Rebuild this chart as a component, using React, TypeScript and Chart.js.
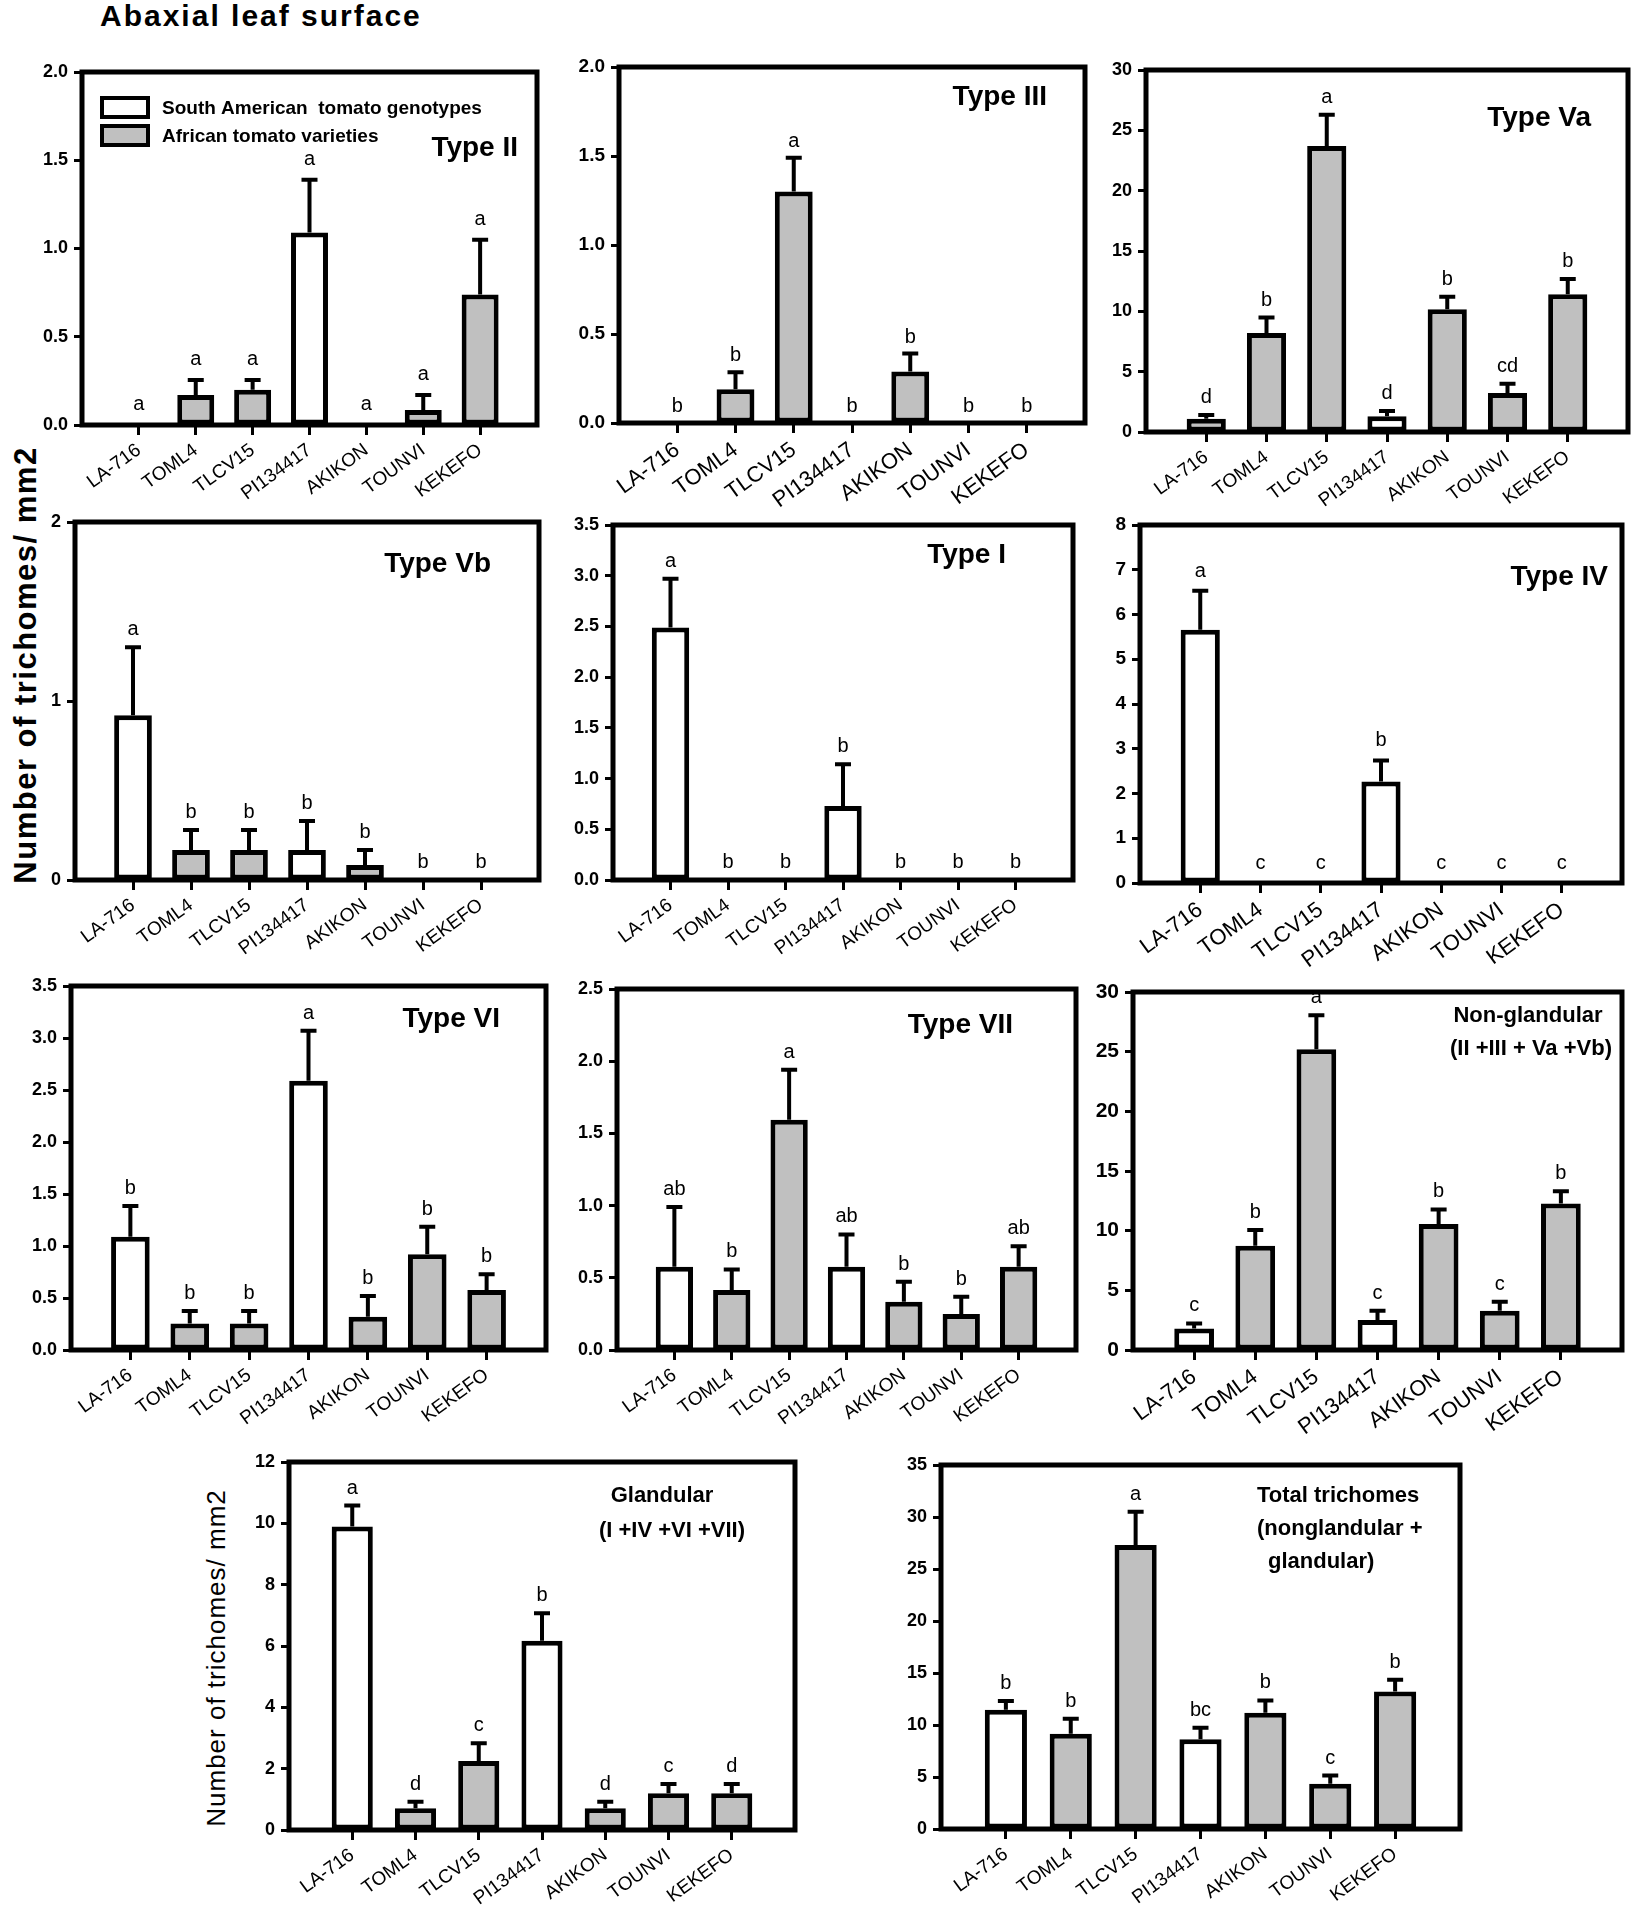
import React, { useEffect, useRef } from "react";
import { Chart, registerables } from "chart.js";

Chart.register(...registerables);

const FONT = "'Liberation Sans', Arial, Helvetica, sans-serif";

// ---------- categories ----------
const genotypes = ["LA-716", "TOML4", "TLCV15", "PI134417", "AKIKON", "TOUNVI", "KEKEFO"];
const originGroup = ["South American", "African", "African", "South American", "African", "African", "African"];
const originGroupTypeVa = ["African", "African", "African", "South American", "African", "African", "African"];

// ---------- series (mean, standard error, significance letters) ----------
const typeIIMean = [0, 0.17, 0.2, 1.09, 0, 0.085, 0.74];
const typeIISE = [0, 0.085, 0.055, 0.3, 0, 0.085, 0.31];
const typeIILetters = ["a", "a", "a", "a", "a", "a", "a"];

const typeIIIMean = [0, 0.19, 1.3, 0, 0.29, 0, 0];
const typeIIISE = [0, 0.095, 0.19, 0, 0.1, 0, 0];
const typeIIILetters = ["b", "b", "a", "b", "b", "b", "b"];

const typeVaMean = [1.1, 8.2, 23.7, 1.3, 10.17, 3.24, 11.42];
const typeVaSE = [0.3, 1.28, 2.6, 0.45, 1.03, 0.76, 1.25];
const typeVaLetters = ["d", "b", "a", "d", "b", "cd", "b"];

const typeVbMean = [0.92, 0.167, 0.167, 0.167, 0.084, 0, 0];
const typeVbSE = [0.38, 0.113, 0.113, 0.163, 0.083, 0, 0];
const typeVbLetters = ["a", "b", "b", "b", "b", "b", "b"];

const typeIMean = [2.49, 0, 0, 0.73, 0, 0, 0];
const typeISE = [0.48, 0, 0, 0.41, 0, 0, 0];
const typeILetters = ["a", "b", "b", "b", "b", "b", "b"];

const typeIVMean = [5.66, 0, 0, 2.27, 0, 0, 0];
const typeIVSE = [0.87, 0, 0, 0.47, 0, 0, 0];
const typeIVLetters = ["a", "c", "c", "b", "c", "c", "c"];

const typeVIMean = [1.09, 0.256, 0.256, 2.59, 0.32, 0.92, 0.577];
const typeVISE = [0.295, 0.12, 0.12, 0.48, 0.2, 0.266, 0.151];
const typeVILetters = ["b", "b", "b", "a", "b", "b", "b"];

const typeVIIMean = [0.576, 0.415, 1.594, 0.576, 0.334, 0.249, 0.576];
const typeVIISE = [0.414, 0.143, 0.346, 0.224, 0.138, 0.12, 0.143];
const typeVIILetters = ["ab", "b", "a", "ab", "b", "b", "ab"];

const nonGlandularMean = [1.81, 8.74, 25.2, 2.51, 10.55, 3.29, 12.28];
const nonGlandularSE = [0.42, 1.31, 2.85, 0.78, 1.23, 0.76, 1.03];
const nonGlandularLetters = ["c", "b", "a", "c", "b", "c", "b"];

const glandularMean = [9.9, 0.71, 2.25, 6.17, 0.71, 1.2, 1.2];
const glandularSE = [0.68, 0.21, 0.58, 0.9, 0.21, 0.3, 0.3];
const glandularLetters = ["a", "d", "c", "b", "d", "c", "d"];

const totalMean = [11.46, 9.15, 27.3, 8.64, 11.18, 4.34, 13.23];
const totalSE = [0.84, 1.45, 3.2, 1.09, 1.18, 0.8, 1.12];
const totalLetters = ["b", "b", "a", "bc", "b", "c", "b"];

// ---------- legend ----------
const legendLabels = ["South American  tomato genotypes", "African tomato varieties"];
const legendGroups = ["South American", "African"];

// ---------- styles ----------
const groupFill: Record<string, string> = { "South American": "#ffffff", African: "#c0c0c0" };

type Note = { text: string; x: number; y: number; align: CanvasTextAlign; font: string };
type Panel = {
  id: string;
  mean: number[];
  se: number[];
  letters: string[];
  groups: string[];
  yMax: number;
  yStep: number;
  decimals: number;
  frame: [number, number, number, number];
  xFont: number;
  yFont: number;
  letterGap: number;
  notes: Note[];
  legend?: boolean;
};

const TITLE = `bold 28px ${FONT}`;
const NOTE = `bold 22px ${FONT}`;

const panels: Panel[] = [
  {
    id: "II", mean: typeIIMean, se: typeIISE, letters: typeIILetters, groups: originGroup,
    yMax: 2, yStep: 0.5, decimals: 1, frame: [82, 72, 537, 425], xFont: 19, yFont: 18, letterGap: 15,
    notes: [{ text: "Type II", x: 518, y: 156, align: "right", font: TITLE }], legend: true,
  },
  {
    id: "III", mean: typeIIIMean, se: typeIIISE, letters: typeIIILetters, groups: originGroup,
    yMax: 2, yStep: 0.5, decimals: 1, frame: [619, 67, 1085, 423], xFont: 22, yFont: 19, letterGap: 11,
    notes: [{ text: "Type III", x: 1047, y: 105, align: "right", font: TITLE }],
  },
  {
    id: "Va", mean: typeVaMean, se: typeVaSE, letters: typeVaLetters, groups: originGroupTypeVa,
    yMax: 30, yStep: 5, decimals: 0, frame: [1146, 70, 1628, 432], xFont: 19, yFont: 18, letterGap: 12,
    notes: [{ text: "Type Va", x: 1591, y: 126, align: "right", font: TITLE }],
  },
  {
    id: "Vb", mean: typeVbMean, se: typeVbSE, letters: typeVbLetters, groups: originGroup,
    yMax: 2, yStep: 1, decimals: 0, frame: [75, 522, 539, 880], xFont: 19, yFont: 18, letterGap: 12,
    notes: [{ text: "Type Vb", x: 491, y: 572, align: "right", font: TITLE }],
  },
  {
    id: "I", mean: typeIMean, se: typeISE, letters: typeILetters, groups: originGroup,
    yMax: 3.5, yStep: 0.5, decimals: 1, frame: [613, 525, 1073, 880], xFont: 19, yFont: 18, letterGap: 12,
    notes: [{ text: "Type I", x: 1006, y: 563, align: "right", font: TITLE }],
  },
  {
    id: "IV", mean: typeIVMean, se: typeIVSE, letters: typeIVLetters, groups: originGroup,
    yMax: 8, yStep: 1, decimals: 0, frame: [1140, 525, 1622, 883], xFont: 22, yFont: 19, letterGap: 14,
    notes: [{ text: "Type IV", x: 1608, y: 585, align: "right", font: TITLE }],
  },
  {
    id: "VI", mean: typeVIMean, se: typeVISE, letters: typeVILetters, groups: originGroup,
    yMax: 3.5, yStep: 0.5, decimals: 1, frame: [71, 986, 546, 1350], xFont: 19, yFont: 18, letterGap: 12,
    notes: [{ text: "Type VI", x: 500, y: 1027, align: "right", font: TITLE }],
  },
  {
    id: "VII", mean: typeVIIMean, se: typeVIISE, letters: typeVIILetters, groups: originGroup,
    yMax: 2.5, yStep: 0.5, decimals: 1, frame: [617, 989, 1076, 1350], xFont: 19, yFont: 18, letterGap: 12,
    notes: [{ text: "Type VII", x: 1013, y: 1033, align: "right", font: TITLE }],
  },
  {
    id: "NG", mean: nonGlandularMean, se: nonGlandularSE, letters: nonGlandularLetters, groups: originGroup,
    yMax: 30, yStep: 5, decimals: 0, frame: [1133, 992, 1622, 1350], xFont: 22, yFont: 21, letterGap: 12,
    notes: [
      { text: "Non-glandular", x: 1528, y: 1022, align: "center", font: NOTE },
      { text: "(II +III + Va +Vb)", x: 1531, y: 1055, align: "center", font: NOTE },
    ],
  },
  {
    id: "G", mean: glandularMean, se: glandularSE, letters: glandularLetters, groups: originGroup,
    yMax: 12, yStep: 2, decimals: 0, frame: [289, 1462, 795, 1830], xFont: 19, yFont: 18, letterGap: 12,
    notes: [
      { text: "Glandular", x: 662, y: 1502, align: "center", font: NOTE },
      { text: "(I +IV +VI +VII)", x: 672, y: 1537, align: "center", font: NOTE },
    ],
  },
  {
    id: "T", mean: totalMean, se: totalSE, letters: totalLetters, groups: originGroup,
    yMax: 35, yStep: 5, decimals: 0, frame: [941, 1465, 1460, 1829], xFont: 19, yFont: 18, letterGap: 12,
    notes: [
      { text: "Total trichomes", x: 1257, y: 1502, align: "left", font: NOTE },
      { text: "(nonglandular +", x: 1257, y: 1535, align: "left", font: NOTE },
      { text: "glandular)", x: 1268, y: 1568, align: "left", font: NOTE },
    ],
  },
];

const PAD_L = 72;
const PAD_T = 24;
const PAD_R = 32;
const PAD_B = 100;

function PanelChart({ panel }: { panel: Panel }) {
  const ref = useRef<HTMLCanvasElement | null>(null);
  const [l, t, r, b] = panel.frame;
  const cw = r - l + PAD_L + PAD_R;
  const ch = b - t + PAD_T + PAD_B;
  const left = l - PAD_L;
  const top = t - PAD_T;

  useEffect(() => {
    if (!ref.current) return;
    const labels = ["", ...genotypes, ""];
    const values: (number | null)[] = [null, ...panel.mean, null];
    const fills = ["#fff", ...panel.groups.map((g) => groupFill[g]), "#fff"];

    const deco = {
      id: "deco" + panel.id,
      afterDraw(chart: any) {
        const ctx = chart.ctx as CanvasRenderingContext2D;
        const area = chart.chartArea;
        const ys = chart.scales.y;
        const meta = chart.getDatasetMeta(0);
        ctx.save();
        // error bars + letters
        for (let i = 0; i < panel.mean.length; i++) {
          const el = meta.data[i + 1];
          if (!el) continue;
          const x = el.x;
          const yTop = ys.getPixelForValue(panel.mean[i]);
          const yErr = ys.getPixelForValue(panel.mean[i] + panel.se[i]);
          if (panel.se[i] > 0) {
            ctx.strokeStyle = "#000";
            ctx.lineWidth = 4;
            ctx.lineCap = "butt";
            ctx.beginPath();
            ctx.moveTo(x, yTop);
            ctx.lineTo(x, yErr);
            ctx.moveTo(x - 8, yErr);
            ctx.lineTo(x + 8, yErr);
            ctx.stroke();
          }
          ctx.fillStyle = "#000";
          ctx.font = `20px ${FONT}`;
          ctx.textAlign = "center";
          ctx.textBaseline = "alphabetic";
          ctx.fillText(panel.letters[i], x, Math.min(yErr, yTop) - panel.letterGap);
        }
        // frame
        ctx.strokeStyle = "#000";
        ctx.lineWidth = 5;
        ctx.strokeRect(area.left, area.top, area.right - area.left, area.bottom - area.top);
        // notes (page coords -> canvas coords)
        ctx.fillStyle = "#000";
        ctx.textBaseline = "alphabetic";
        for (const n of panel.notes) {
          ctx.font = n.font;
          ctx.textAlign = n.align;
          ctx.fillText(n.text, n.x - left, n.y - top);
        }
        // legend
        if (panel.legend) {
          const boxX = 102 - left;
          const boxYs = [98 - top, 126 - top];
          const textYs = [114 - top, 142 - top];
          for (let k = 0; k < legendLabels.length; k++) {
            ctx.fillStyle = groupFill[legendGroups[k]];
            ctx.fillRect(boxX, boxYs[k], 46, 19);
            ctx.strokeStyle = "#000";
            ctx.lineWidth = 4;
            ctx.strokeRect(boxX, boxYs[k], 46, 19);
            ctx.fillStyle = "#000";
            ctx.font = `bold 19px ${FONT}`;
            ctx.textAlign = "left";
            ctx.fillText(legendLabels[k], 162 - left, textYs[k]);
          }
        }
        ctx.restore();
      },
    };

    const chart = new Chart(ref.current, {
      type: "bar",
      data: {
        labels,
        datasets: [
          {
            data: values,
            backgroundColor: fills,
            borderColor: "#000",
            borderWidth: 5,
            borderSkipped: false,
            barPercentage: 0.65,
            categoryPercentage: 1,
          },
        ],
      },
      options: {
        animation: false,
        responsive: false,
        devicePixelRatio: 1,
        events: [],
        layout: { padding: { top: PAD_T, right: PAD_R, left: 0, bottom: 0 } },
        plugins: {
          legend: { display: false },
          tooltip: { enabled: false },
          title: { display: false },
        },
        scales: {
          x: {
            type: "category",
            offset: false,
            grid: {
              offset: false,
              display: true,
              drawOnChartArea: false,
              drawTicks: true,
              tickLength: 10,
              tickWidth: 3,
              tickColor: (c: any) => (c.index === 0 || c.index === labels.length - 1 ? "rgba(0,0,0,0)" : "#000"),
            },
            border: { display: false },
            ticks: {
              autoSkip: false,
              minRotation: 36,
              maxRotation: 36,
              padding: 4,
              color: "#000",
              font: { family: FONT, size: panel.xFont },
            },
            afterFit: (s: any) => {
              s.height = PAD_B;
            },
          },
          y: {
            min: 0,
            max: panel.yMax,
            grid: {
              display: true,
              drawOnChartArea: false,
              drawTicks: true,
              tickLength: 8,
              tickWidth: 3,
              tickColor: "#000",
            },
            border: { display: false },
            ticks: {
              stepSize: panel.yStep,
              padding: 6,
              color: "#000",
              font: { family: FONT, size: panel.yFont, weight: "bold" },
              callback: (v: any) => Number(v).toFixed(panel.decimals),
            },
            afterFit: (s: any) => {
              s.width = PAD_L;
            },
          },
        },
      },
      plugins: [deco],
    } as any);
    return () => chart.destroy();
  }, []);

  return (
    <canvas
      ref={ref}
      width={cw}
      height={ch}
      style={{ position: "absolute", left, top, width: cw, height: ch }}
    />
  );
}

export default function App() {
  return (
    <div
      style={{
        position: "absolute",
        left: 0,
        top: 0,
        width: 1636,
        height: 1905,
        overflow: "hidden",
        background: "#fff",
      }}
    >
      <div
        style={{
          position: "absolute",
          left: 100,
          top: 1,
          fontFamily: FONT,
          fontWeight: "bold",
          fontSize: 30,
          letterSpacing: "2px",
          lineHeight: 1,
          whiteSpace: "nowrap",
          color: "#000",
        }}
      >
        Abaxial leaf surface
      </div>
      <div
        style={{
          position: "absolute",
          left: 25,
          top: 665,
          transform: "translate(-50%, -50%) rotate(-90deg)",
          fontFamily: FONT,
          fontWeight: "bold",
          fontSize: 31,
          letterSpacing: "1.5px",
          lineHeight: 1,
          whiteSpace: "nowrap",
          color: "#000",
        }}
      >
        Number of trichomes/ mm2
      </div>
      <div
        style={{
          position: "absolute",
          left: 216,
          top: 1658,
          transform: "translate(-50%, -50%) rotate(-90deg)",
          fontFamily: FONT,
          fontSize: 26,
          letterSpacing: "1px",
          lineHeight: 1,
          whiteSpace: "nowrap",
          color: "#000",
        }}
      >
        Number of trichomes/ mm2
      </div>
      {panels.map((p) => (
        <PanelChart key={p.id} panel={p} />
      ))}
    </div>
  );
}
